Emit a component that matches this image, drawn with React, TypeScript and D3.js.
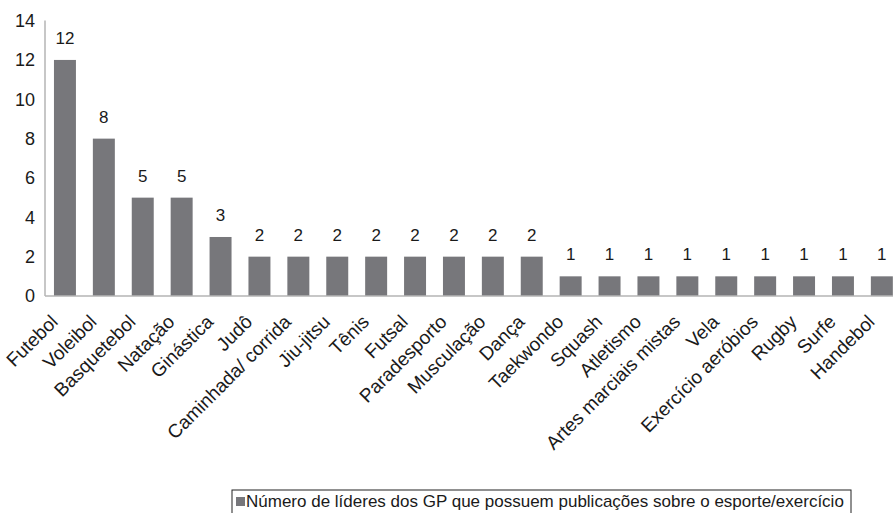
import React from "react";
import * as d3 from "d3";

const categories = [
  "Futebol", "Voleibol", "Basquetebol", "Natação", "Ginástica", "Judô",
  "Caminhada/ corrida", "Jiu-jitsu", "Tênis", "Futsal", "Paradesporto",
  "Musculação", "Dança", "Taekwondo", "Squash", "Atletismo",
  "Artes marciais mistas", "Vela", "Exercício aeróbios", "Rugby", "Surfe", "Handebol",
];
const values = [12, 8, 5, 5, 3, 2, 2, 2, 2, 2, 2, 2, 2, 1, 1, 1, 1, 1, 1, 1, 1, 1];
const yTicks = [0, 2, 4, 6, 8, 10, 12, 14];
const legendLabel = "Número de líderes dos GP que possuem publicações sobre o esporte/exercício";

const W = 893;
const H = 513;
const FONT = "'Liberation Sans', Arial, Helvetica, sans-serif";
const BAR = "#77777b";
const AXIS = "#b4b4b4";
const TEXT = "#1a1a1a";
const FS = 17;

export default function App() {
  const x = d3.scaleBand<string>().domain(categories).range([45.5, 45.5 + 38.9 * 22]).paddingInner(0.435).paddingOuter(0.2175);
  const y = d3.scaleLinear().domain([0, 14]).range([296, 20.6]);
  const bw = x.bandwidth();
  return (
    <svg width={W} height={H} style={{ position: "absolute", left: 0, top: 0, display: "block" }} fontFamily={FONT}>
      <rect x={0} y={0} width={W} height={H} fill="#fff" />
      {categories.map((c, i) => (
        <rect key={c} x={x(c)} y={y(values[i])} width={bw} height={y(0) - y(values[i])} fill={BAR} />
      ))}
      <line x1={45} x2={W} y1={y(0)} y2={y(0)} stroke={AXIS} strokeWidth={1.5} />
      <line x1={45} x2={45} y1={y(14)} y2={y(0)} stroke={AXIS} strokeWidth={1.5} />
      {yTicks.map((t) => (
        <text key={t} x={35} y={y(t)} dy="0.35em" textAnchor="end" fontSize={18} fill={TEXT}>{t}</text>
      ))}
      {categories.map((c, i) => (
        <text key={"v" + c} x={(x(c) as number) + bw / 2} y={y(values[i]) - 16} textAnchor="middle" fontSize={FS} fill={TEXT}>{values[i]}</text>
      ))}
      {categories.map((c) => {
        const cx = (x(c) as number) + bw / 2 - 6;
        const cy = 323;
        return (
          <text key={"c" + c} transform={`translate(${cx},${cy}) rotate(-45)`} textAnchor="end" fontSize={19} fill={TEXT}>{c}</text>
        );
      })}
      <rect x={232} y={490} width={619} height={30} fill="none" stroke="#222" strokeWidth={1} />
      <rect x={236} y={497} width={9} height={9} fill={BAR} />
      <text x={246} y={507} fontSize={FS} fill={TEXT}>{legendLabel}</text>
    </svg>
  );
}
